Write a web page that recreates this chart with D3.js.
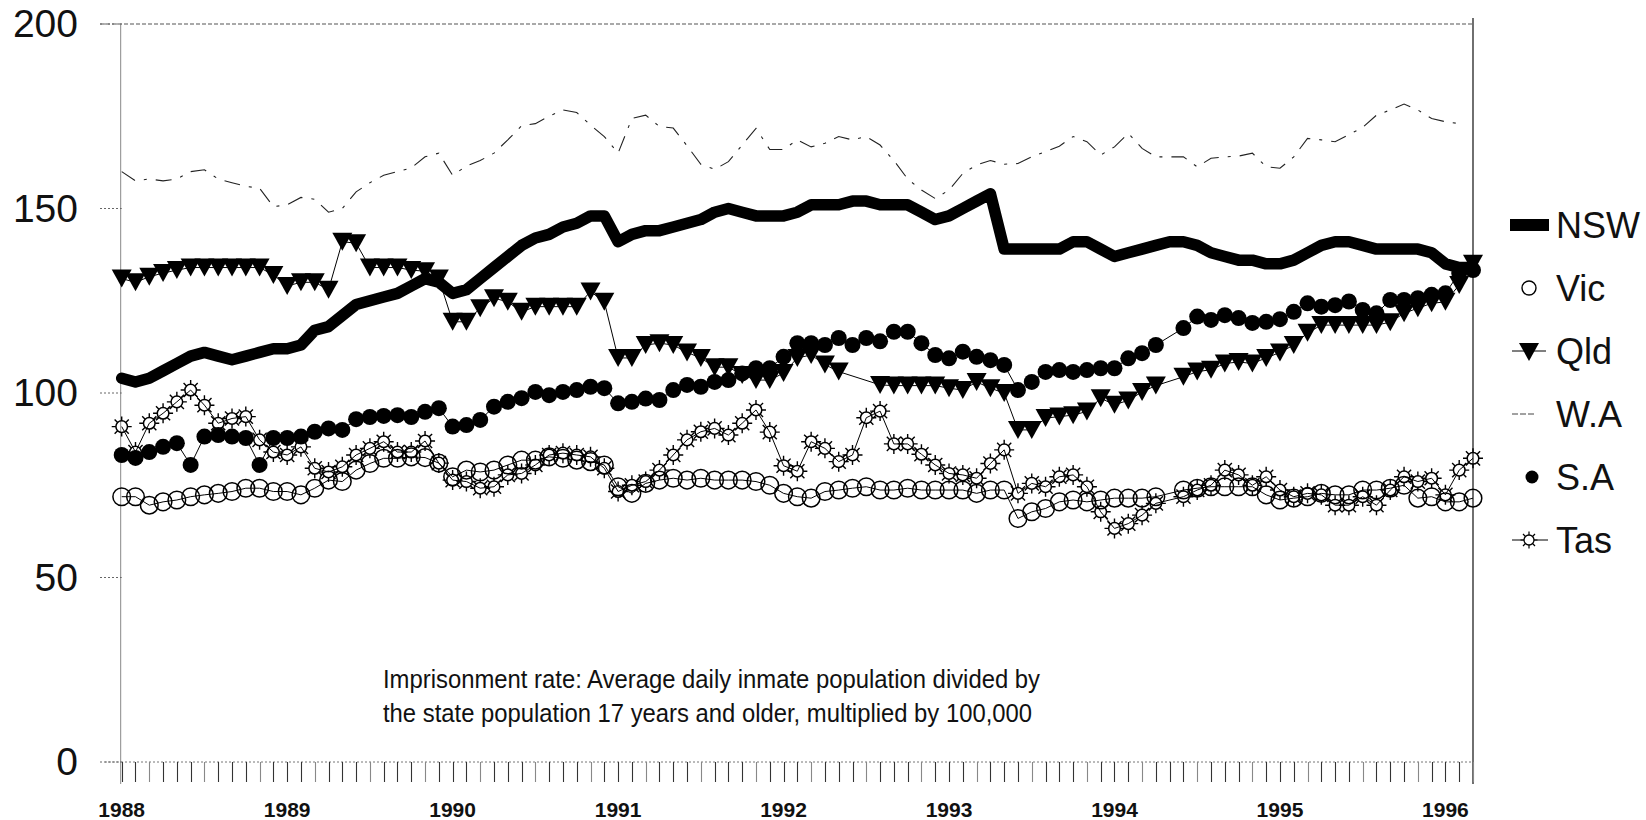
<!DOCTYPE html>
<html>
<head>
<meta charset="utf-8">
<script src="https://cdn.jsdelivr.net/npm/d3@7"></script>
<style>
  html, body { margin: 0; padding: 0; background: #fff; }
  svg { display: block; }
</style>
</head>
<body>
<svg id="chart" width="1646" height="820"></svg>
<script>
// ---------------- DATA (monthly, Jan 1988 .. Mar 1996) ----------------
const yearLabels = ["1988","1989","1990","1991","1992","1993","1994","1995","1996"];
const yTickValues = [0, 50, 100, 150, 200];
const seriesNames = ["NSW", "Vic", "Qld", "W.A", "S.A", "Tas"];
const noteLines = [
  "Imprisonment rate: Average daily inmate population divided by",
  "the state population 17 years and older, multiplied by 100,000"
];

const nsw = [104,103,104,106,108,110,111,110,109,110,111,112,112,113,117,118,121,124,125,126,
  127,129,131,130,127,128,131,134,137,140,142,143,145,146,148,148,141,143,144,144,
  145,146,147,149,150,149,148,148,148,149,151,151,151,152,152,151,151,151,149,147,
  148,150,152,154,139,139,139,139,139,141,141,139,137,138,139,140,141,141,140,138,
  137,136,136,135,135,136,138,140,141,141,140,139,139,139,139,138,135,134,134];

const vic = [71.9,71.9,69.6,70.5,71,71.9,72.4,72.8,73.3,74.2,74.2,73.3,73.3,72.4,74.2,76.4,76,79.1,80.9,82.3,
  82.3,82.7,82.5,81,77.3,79.1,78.6,79.1,80.5,81.8,81.8,82.7,82.3,81.8,81.4,80.5,74.6,72.8,75.5,76.4,
  76.9,76.4,76.9,76.4,76.4,76.4,76,75,72.8,71.9,71.5,73.3,73.7,74.2,74.6,73.7,73.7,74.2,73.7,73.7,
  73.7,73.7,72.8,73.7,73.7,66,67.8,68.7,70.5,71,70.5,71,71.5,71.5,71.5,71.9,null,73.7,74.2,74.6,
  74.6,74.6,74.6,72.4,71,71.5,71.9,72.8,72.4,72.4,73.7,73.7,74.2,75,71.5,71.9,70.5,70.5,71.5];

const qld = [131,130,131.5,132.5,133.3,134,134,134,134,134,134,132,129,130,130,128,141,140.6,134,134,
  134,133.3,133,131,119.3,119.3,123,125.7,124.7,122,123.4,123.4,123.4,123.4,127.5,124.7,109.5,109.5,113,113.5,
  113,111,109.5,107,107,104.9,103.5,103.5,105.4,109.5,110.3,107.7,105.8,null,null,102.2,102,102,102,102,
  101.3,100.8,103,101.3,100,90,90,93.2,93.6,94,95,98.6,96.8,98,100.3,102,null,104.4,105.8,106.3,
  108,108.4,108,109.5,111,113,116.3,118.4,118.4,118.4,118.4,118.4,119.2,121.6,123,124.3,124.7,129.3,135];

const wa = [160,157.5,158,157.5,158,160,160.5,158,157,156,155.5,150.5,151,153,152.5,149,150,154.5,157,159,
  160,161,164,165,159,161.5,163,165,168.6,172.4,173,175,176.7,176,172.6,169.5,165,174.4,175.3,172.2,
  171.8,167,162,160.6,162.7,167.2,171.7,166,166,168.6,166.7,167.7,169.5,168.6,169.5,167.2,163,158,155,152.7,
  155,159.5,161.8,163,162,162.2,164,165.4,166.9,169.5,168.1,164.5,166.7,170.4,166.3,164,164,164,161.3,163.6,
  164,164.2,165,161.3,160.9,164,169,168.6,168.1,170,172,175.3,176.7,178.3,176.7,174.4,173.5,173,null];

const sa = [83.2,82.4,84,85.4,86.4,80.5,88.2,88.6,88.2,87.8,80.5,87.8,87.8,88.2,89.5,90.4,90,92.9,93.5,93.8,
  94,93.5,94.9,95.9,90.9,91.3,92.7,96.3,97.6,98.6,100.3,99.4,100.3,100.8,101.7,101.3,97.2,97.6,98.5,98.1,
  100.8,102.2,101.7,103,103.5,105.3,106.7,106.7,109.8,113.5,113.5,113,114.9,113,114.9,114,116.6,116.6,113.5,110.3,
  109.4,111.2,109.8,108.9,107.6,100.8,103,105.7,106.2,105.7,106.2,106.7,106.7,109.4,110.8,113,null,117.6,120.7,119.8,
  121.1,120.3,119,119.3,120,122,124.3,123.4,123.8,124.8,122.5,121.6,125.2,125.2,125.7,126.6,127,132.5,133.3];

const tas = [90.9,84,91.8,94.5,97.6,100.8,96.7,91.8,93.1,93.6,87.3,84,83.2,85.4,79.6,78.6,80,83.2,85,86.8,
  84,84,87,81,76.4,76,74.2,74.6,77.8,78.2,80.5,83.2,83.7,83.2,82.7,79.6,73.3,75,76,79.1,
  83.2,87.3,89.5,90.4,88.6,91.8,95.4,89.4,80.3,78.8,86.8,85,81.4,83.2,93.3,95.1,86.2,86.2,83.4,80.5,
  78.2,77.8,76.9,80.9,84.6,72.8,75.5,74.6,77.3,77.8,74.6,67.8,63.3,64.6,66.9,70.1,null,71.9,73.7,75,
  79.1,77.8,75,77.3,73.7,71.9,72.8,72.4,69.6,69.6,71.9,69.6,73.7,77.3,76,76.9,72.4,79.1,82.3];

// ---------------- LAYOUT ----------------
const svg = d3.select("#chart");
svg.append("rect").attr("width", 1646).attr("height", 820).attr("fill", "#fff");

const nMonths = nsw.length;
const x = d3.scaleLinear().domain([0, nMonths - 1]).range([121.7, 1473]);
const y = d3.scaleLinear().domain([0, 200]).range([762, 24]);

const g = svg.append("g");

// frame: top dotted, right solid, left thin
g.append("line").attr("x1", 100).attr("x2", x(nMonths - 1)).attr("y1", y(200)).attr("y2", y(200))
  .attr("stroke", "#555").attr("stroke-width", 1.2).attr("stroke-dasharray", "4,2");
g.append("line").attr("x1", x(nMonths - 1)).attr("x2", x(nMonths - 1)).attr("y1", y(200) - 6).attr("y2", 784)
  .attr("stroke", "#222").attr("stroke-width", 1.3);
g.append("line").attr("x1", x(0) - 1).attr("x2", x(0) - 1).attr("y1", y(200)).attr("y2", 784)
  .attr("stroke", "#888").attr("stroke-width", 1);

// y ticks (dotted stubs) + labels
yTickValues.forEach(v => {
  g.append("line").attr("x1", 100).attr("x2", x(0)).attr("y1", y(v)).attr("y2", y(v))
    .attr("stroke", "#666").attr("stroke-width", 1).attr("stroke-dasharray", "2,2");
  g.append("text").attr("x", 78).attr("y", y(v) + 3)
    .attr("text-anchor", "end").attr("dominant-baseline", "middle")
    .attr("font-family", "Liberation Sans, Arial, sans-serif").attr("font-size", 39)
    .attr("fill", "#111").text(v);
});

// x axis baseline (dotted) and monthly ticks
g.append("line").attr("x1", 105).attr("x2", x(nMonths - 1)).attr("y1", y(0)).attr("y2", y(0))
  .attr("stroke", "#777").attr("stroke-width", 1).attr("stroke-dasharray", "2,2");
d3.range(nMonths).forEach(i => {
  g.append("line").attr("x1", Math.round(x(i)) + 0.5).attr("x2", Math.round(x(i)) + 0.5)
    .attr("y1", y(0)).attr("y2", y(0) + 20)
    .attr("stroke", i % 4 === 2 ? "#888" : "#333").attr("stroke-width", 1.1);
});
yearLabels.forEach((lab, k) => {
  g.append("text").attr("x", x(k * 12)).attr("y", 817)
    .attr("text-anchor", "middle")
    .attr("font-family", "Liberation Sans, Arial, sans-serif").attr("font-size", 21)
    .attr("font-weight", "bold").attr("fill", "#111").text(lab);
});

// note text
noteLines.forEach((t, k) => {
  g.append("text").attr("x", 383).attr("y", 688 + k * 34)
    .attr("font-family", "Liberation Sans Narrow, Arial Narrow, Liberation Sans, sans-serif")
    .attr("font-size", 25).attr("fill", "#111")
    .attr("textLength", k === 0 ? 657 : 649).attr("lengthAdjust", "spacingAndGlyphs")
    .text(t);
});

// ---------------- SERIES ----------------
function pts(arr) {
  return arr.map((v, i) => ({ i, v })).filter(d => d.v !== null);
}
const line = d3.line().x(d => x(d.i)).y(d => y(d.v));

// W.A. dashed thin line
g.append("path").datum(pts(wa)).attr("d", line).attr("fill", "none")
  .attr("stroke", "#222").attr("stroke-width", 1.1).attr("stroke-dasharray", "16,9,3,9");

// NSW thick line
g.append("path").datum(pts(nsw)).attr("d", line).attr("fill", "none")
  .attr("stroke", "#000").attr("stroke-width", 11.5).attr("stroke-linejoin", "round").attr("stroke-linecap", "round");

// S.A. filled circles
g.append("path").datum(pts(sa)).attr("d", line).attr("fill", "none").attr("stroke", "#000").attr("stroke-width", 1);
g.append("g").selectAll("circle").data(pts(sa)).join("circle")
  .attr("cx", d => x(d.i)).attr("cy", d => y(d.v)).attr("r", 8).attr("fill", "#000");

// Qld filled down-triangles
const triPath = (cx, cy) => `M${cx - 10},${cy - 9}L${cx + 10},${cy - 9}L${cx},${cy + 9}Z`;
g.append("path").datum(pts(qld)).attr("d", line).attr("fill", "none").attr("stroke", "#000").attr("stroke-width", 1);
g.append("g").selectAll("path").data(pts(qld)).join("path")
  .attr("d", d => triPath(x(d.i), y(d.v))).attr("fill", "#000");

// Vic open circles
g.append("path").datum(pts(vic)).attr("d", line).attr("fill", "none").attr("stroke", "#000").attr("stroke-width", 1);
g.append("g").selectAll("circle").data(pts(vic)).join("circle")
  .attr("cx", d => x(d.i)).attr("cy", d => y(d.v)).attr("r", 8.8)
  .attr("fill", "none").attr("stroke", "#000").attr("stroke-width", 1.5);

// Tas "sun" markers
function sunPath(cx, cy, r1, r2) {
  let p = "";
  for (let k = 0; k < 8; k++) {
    const a = k * Math.PI / 4;
    p += `M${cx + r1 * Math.cos(a)},${cy + r1 * Math.sin(a)}L${cx + r2 * Math.cos(a)},${cy + r2 * Math.sin(a)}`;
  }
  return p;
}
g.append("path").datum(pts(tas)).attr("d", line).attr("fill", "none").attr("stroke", "#000").attr("stroke-width", 1);
const tasG = g.append("g");
tasG.selectAll("circle").data(pts(tas)).join("circle")
  .attr("cx", d => x(d.i)).attr("cy", d => y(d.v)).attr("r", 5.8)
  .attr("fill", "none").attr("stroke", "#000").attr("stroke-width", 1.5);
tasG.selectAll("path").data(pts(tas)).join("path")
  .attr("d", d => sunPath(x(d.i), y(d.v), 5.8, 10)).attr("stroke", "#000").attr("stroke-width", 1.4);

// ---------------- LEGEND ----------------
const legBase0 = 238, legDy = 63, legText = 1556, legSym = 1529;
const leg = svg.append("g").attr("font-family", "Liberation Sans, Arial, sans-serif").attr("font-size", 36).attr("fill", "#111");
seriesNames.forEach((name, k) => {
  const base = legBase0 + k * legDy;
  const cy = base - 13;
  leg.append("text").attr("x", legText).attr("y", base).text(name);
  if (name === "NSW") {
    leg.append("line").attr("x1", 1510).attr("x2", 1549).attr("y1", cy).attr("y2", cy).attr("stroke", "#000").attr("stroke-width", 12);
  } else if (name === "Vic") {
    leg.append("circle").attr("cx", legSym).attr("cy", cy).attr("r", 7).attr("fill", "none").attr("stroke", "#000").attr("stroke-width", 1.4);
  } else if (name === "Qld") {
    leg.append("line").attr("x1", 1512).attr("x2", 1546).attr("y1", cy).attr("y2", cy).attr("stroke", "#000").attr("stroke-width", 1);
    leg.append("path").attr("d", triPath(legSym, cy + 1)).attr("fill", "#000");
  } else if (name === "W.A") {
    leg.append("line").attr("x1", 1512).attr("x2", 1535).attr("y1", cy).attr("y2", cy).attr("stroke", "#444").attr("stroke-width", 1).attr("stroke-dasharray", "6,2");
  } else if (name === "S.A") {
    leg.append("circle").attr("cx", legSym + 3).attr("cy", cy).attr("r", 6.5).attr("fill", "#000");
  } else if (name === "Tas") {
    leg.append("line").attr("x1", 1512).attr("x2", 1548).attr("y1", cy).attr("y2", cy).attr("stroke", "#000").attr("stroke-width", 1);
    leg.append("circle").attr("cx", legSym).attr("cy", cy).attr("r", 5).attr("fill", "#fff").attr("stroke", "#000").attr("stroke-width", 1.3);
    leg.append("path").attr("d", sunPath(legSym, cy, 5, 8.5)).attr("stroke", "#000").attr("stroke-width", 1.2);
  }
});
</script>
</body>
</html>
